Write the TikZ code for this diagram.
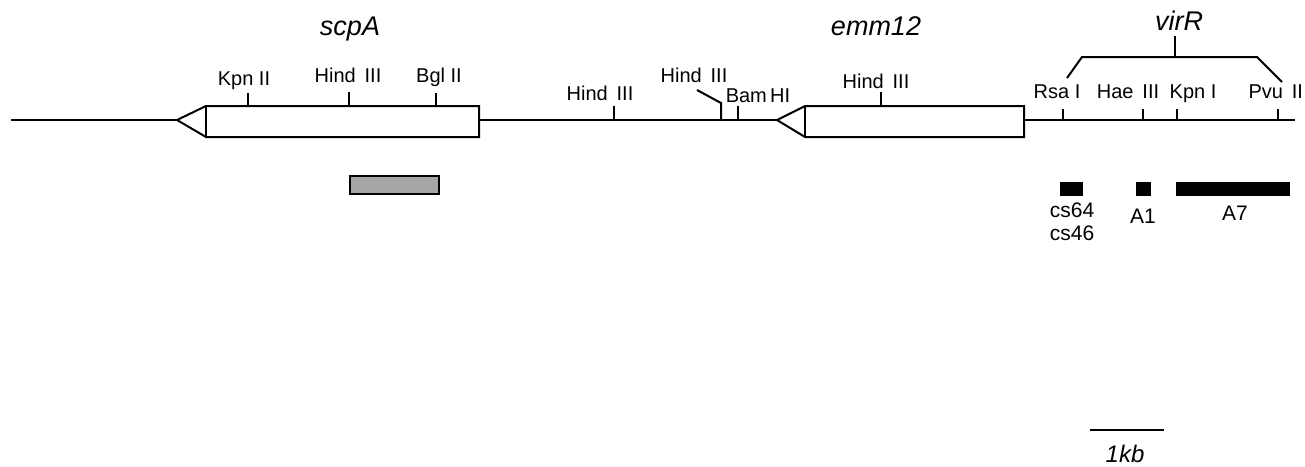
\documentclass[tikz,border=0pt]{standalone}
\usepackage{fontspec}
\setmainfont{Liberation Sans}
\begin{document}
\begin{tikzpicture}[x=1pt,y=-1pt,line width=2pt,
  site/.style={font=\fontsize{20}{22}\selectfont, inner sep=0pt, anchor=base},
  genelabel/.style={font=\fontsize{27}{30}\selectfont\itshape, inner sep=0pt, anchor=base},
  frag/.style={font=\fontsize{21}{24}\selectfont, inner sep=0pt, anchor=base},
  genebox/.style={draw, fill=white, line width=2pt},
  probe/.style={fill=black, draw=none},
  tick/.style={line width=2pt}]
\useasboundingbox (0,0) rectangle (1305,466);

% backbone
\coordinate (L0) at (11,120);
\coordinate (sTip) at (177,120);
\coordinate (sEnd) at (479,120);
\coordinate (eTip) at (777,120);
\coordinate (eEnd) at (1024,120);
\coordinate (R0) at (1295,120);
\draw (L0) -- (sTip);
\draw (sEnd) -- (eTip);
\draw (eEnd) -- (R0);

% scpA gene
\draw[genebox] (sTip) -- (206,106) -- (479,106) -- (479,137) -- (206,137) -- cycle;
\draw (206,106) -- (206,137);
% emm12 gene
\draw[genebox] (eTip) -- (805,106) -- (1024,106) -- (1024,137) -- (805,137) -- cycle;
\draw (805,106) -- (805,137);

% gene labels
\node[genelabel] (scpA) at (350,35) {scpA};
\node[genelabel] (emm) at (876,35) {emm12};
\node[genelabel] (virR) at (1179,30) {virR};

% sites on scpA
\draw[tick] (248,93) -- (248,106);
\node[site] (k2) at (244,85) {Kpn II};
\draw[tick] (349,92) -- (349,106);
\node[site] (h1) at (348,82) {Hind\,\ III};
\draw[tick] (436,93) -- (436,106);
\node[site] (b2) at (439,82) {Bgl II};

% middle sites
\draw[tick] (614,106) -- (614,120);
\node[site] (h2) at (600,100) {Hind\,\ III};
\draw[tick] (697,90) -- (721,103) -- (721,120);
\node[site] (h3) at (694,82) {Hind\,\ III};
\draw[tick] (738,106) -- (738,120);
\node[site] (bam) at (758,102) {Bam\,HI};

% emm12 site
\draw[tick] (881,92) -- (881,106);
\node[site] (h4) at (876,88) {Hind\,\ III};

% right sites
\draw[tick] (1063,109) -- (1063,120);
\node[site] (rsa) at (1057,98) {Rsa I};
\draw[tick] (1143,109) -- (1143,120);
\node[site] (hae) at (1128,98) {Hae\,\ III};
\draw[tick] (1177,109) -- (1177,120);
\node[site] (kpn) at (1193,98) {Kpn I};
\draw[tick] (1278,109) -- (1278,120);
\node[site, anchor=base east] (pvu) at (1304,98) {Pvu\,\ II};

% virR bracket
\draw (1067,78) -- (1082,57) -- (1257,57) -- (1282,82);
\draw (1175,57) -- (1175,36);

% probes
\draw[fill=black!35, line width=1.6pt] (350,176) rectangle (439,194);
\fill[probe] (1060,182) rectangle (1083,196);
\fill[probe] (1136,182) rectangle (1151,196);
\fill[probe] (1176,182) rectangle (1290,196);
\node[frag] (cs64) at (1072,217) {cs64};
\node[frag] (cs46) at (1072,240) {cs46};
\node[frag] (a1) at (1143,223) {A1};
\node[frag] (a7) at (1235,220) {A7};

% scale bar
\draw (1090,430) -- (1164,430);
\node[genelabel, font=\fontsize{24}{26}\selectfont\itshape] (kb) at (1125,462) {1kb};
\end{tikzpicture}
\end{document}
